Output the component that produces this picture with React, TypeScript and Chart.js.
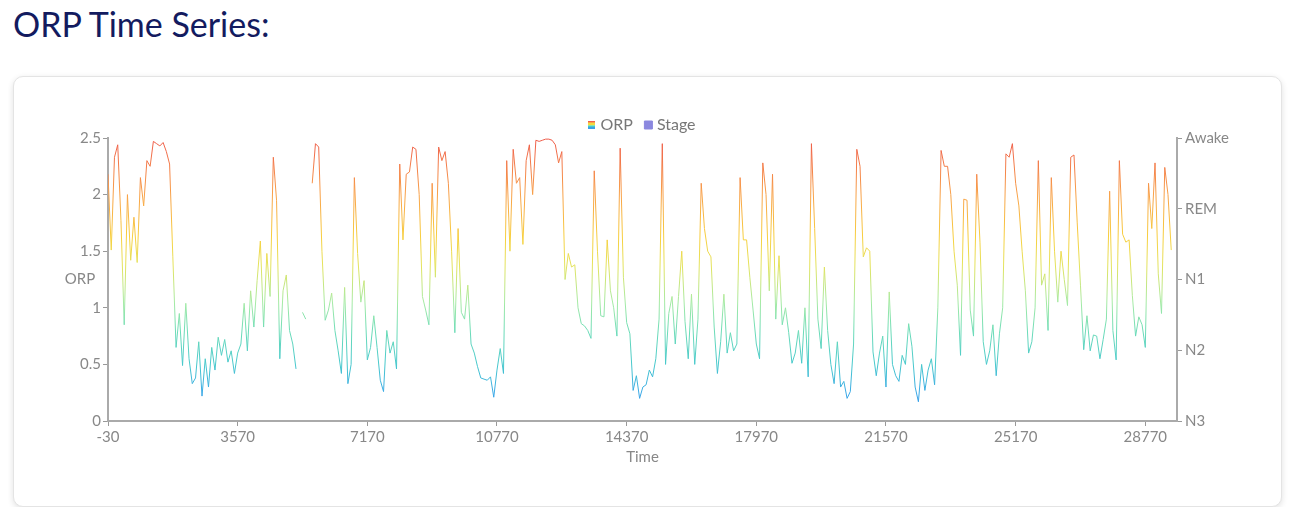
import Chart from 'chart.js/auto';
import { useEffect, useRef } from "react"

Chart.defaults.font.family = 'Lato, "Open Sans", sans-serif'

// one reading every 90 s, first epoch at -30 s (nulls are gaps in the recording)
const TIME_START = -30
const TIME_STEP = 90
const ORP_VALUES: (number | null)[] = [
    2.18, 1.51, 2.33, 2.44, 1.77, 0.85, 2.0, 1.42, 1.8, 1.40,
    2.15, 1.9, 2.3, 2.25, 2.47, 2.45, 2.43, 2.46, 2.38, 2.27,
    1.45, 0.65, 0.95, 0.49, 1.04, 0.55, 0.33, 0.38, 0.7, 0.22,
    0.55, 0.30, 0.65, 0.45, 0.74, 0.58, 0.72, 0.52, 0.62, 0.42,
    0.6, 0.68, 1.04, 0.62, 1.15, 0.83, 1.24, 1.59, 0.83, 1.48,
    1.1, 2.33, 1.95, 0.55, 1.15, 1.29, 0.8, 0.68, 0.46, null,
    0.96, 0.9, null, 2.1, 2.45, 2.42, 1.5, 0.89, 0.98, 1.13,
    0.80, 0.62, 0.42, 1.18, 0.33, 0.5, 2.15, 1.48, 1.05, 1.24,
    0.54, 0.65, 0.93, 0.65, 0.36, 0.26, 0.8, 0.6, 0.7, 0.46,
    2.27, 1.6, 2.18, 2.2, 2.42, 2.4, 2.0, 1.1, 0.98, 0.85,
    2.1, 1.27, 2.42, 2.3, 2.38, 2.1, 1.5, 0.78, 1.7, 0.96,
    0.9, 1.2, 0.68, 0.6, 0.48, 0.38, 0.37, 0.36, 0.39, 0.21,
    0.45, 0.64, 0.42, 2.3, 1.5, 2.4, 2.1, 2.15, 1.56, 2.3,
    2.44, 2.0, 2.48, 2.47, 2.48, 2.49, 2.49, 2.48, 2.44, 2.28,
    2.38, 1.25, 1.48, 1.36, 1.38, 1.0, 0.86, 0.84, 0.8, 0.73,
    2.21, 1.5, 0.93, 0.92, 1.6, 1.15, 1.0, 0.75, 2.41, 1.27,
    0.87, 0.77, 0.27, 0.4, 0.2, 0.3, 0.32, 0.45, 0.39, 0.55,
    0.9, 2.45, 0.5, 0.95, 1.1, 0.68, 1.1, 1.5, 0.88, 0.55,
    1.12, 0.5, 0.9, 2.1, 1.7, 1.5, 1.45, 0.83, 0.42, 0.7,
    1.12, 0.6, 0.78, 0.62, 0.68, 2.15, 1.6, 1.6, 1.27, 0.98,
    0.68, 0.55, 2.28, 2.0, 1.15, 2.18, 0.9, 1.46, 0.85, 1.0,
    0.78, 0.51, 0.6, 0.8, 0.51, 1.0, 0.39, 2.45, 1.7, 0.9,
    0.64, 1.36, 0.8, 0.5, 0.33, 0.7, 0.3, 0.35, 0.2, 0.26,
    0.68, 2.4, 2.25, 1.45, 1.53, 1.5, 0.61, 0.4, 0.6, 0.75,
    0.3, 1.14, 0.5, 0.4, 0.35, 0.58, 0.5, 0.86, 0.66, 0.3,
    0.17, 0.5, 0.27, 0.45, 0.55, 0.32, 1.0, 2.39, 2.25, 2.25,
    2.0, 1.5, 1.2, 0.58, 1.96, 1.95, 0.98, 0.75, 2.18, 1.58,
    0.7, 0.5, 0.62, 0.85, 0.4, 0.77, 1.0, 2.36, 2.33, 2.45,
    2.1, 1.9, 1.5, 1.15, 0.6, 0.7, 1.0, 2.3, 1.2, 1.3,
    0.8, 2.15, 1.5, 1.05, 1.5, 1.25, 1.02, 2.33, 2.35, 1.75,
    1.2, 0.63, 0.93, 0.62, 0.76, 0.75, 0.55, 0.72, 0.9, 2.03,
    0.8, 0.54, 2.3, 1.65, 1.58, 1.6, 1.11, 0.75, 0.92, 0.85,
    0.65, 2.1, 1.7, 2.28, 1.3, 0.95, 2.24, 2.0, 1.51,
]
const STAGE_VALUES: (number | null)[] = []
const X_TICKS = [-30, 3570, 7170, 10770, 14370, 17970, 21570, 25170, 28770]
const STAGE_LABELS = ['N3', 'N2', 'N1', 'REM', 'Awake']

const GRADIENT_STOPS: [number, string][] = [
    [0, '#2f8ff0'],
    [0.1, '#3aa9e6'],
    [0.2, '#46c8cc'],
    [0.32, '#6ddcb6'],
    [0.42, '#a6eaa4'],
    [0.55, '#e4e35c'],
    [0.65, '#f7cf3e'],
    [0.8, '#f8a148'],
    [1, '#ee5a4a'],
]
const LEGEND_STRIPES = ['#ef5f4b', '#f8a247', '#f5d83f', '#8fe3a8', '#46c8cc', '#3a9fe8']
const TEXT_GREY = '#888888'
const AXIS_GREY = '#aaaaaa'
const LEGEND_TRIM = 5

const leftTitle = {
    id: 'leftTitle',
    afterDraw(chart: any) {
        const { ctx, chartArea } = chart
        ctx.save()
        ctx.font = '15px Lato'
        ctx.fillStyle = TEXT_GREY
        ctx.textAlign = 'center'
        ctx.textBaseline = 'middle'
        ctx.fillText('ORP', chartArea.left - 28, (chartArea.top + chartArea.bottom) / 2)
        ctx.restore()
    }
}

// wide gaps between legend items, but the legend box itself kept short
const legendTrim = {
    id: 'legendTrim',
    afterInit(chart: any) {
        const lg = chart.legend
        if (!lg) return
        const fit = lg.fit.bind(lg)
        lg.fit = () => {
            fit()
            lg.height = Math.max(0, lg.height - LEGEND_TRIM)
        }
    }
}

export default function App() {
    const canvasRef = useRef<HTMLCanvasElement>(null)
    useEffect(() => {
        const el = canvasRef.current
        if (el == null) return

        const swatch = document.createElement('canvas')
        swatch.width = 7
        swatch.height = 8
        const sctx = swatch.getContext('2d')!
        LEGEND_STRIPES.forEach((c, i) => {
            sctx.fillStyle = c
            sctx.fillRect(0, Math.floor(i * 8 / LEGEND_STRIPES.length), 7, Math.ceil(8 / LEGEND_STRIPES.length) + 1)
        })

        const chart = new Chart(el, {
            type: 'line',
            data: {
                datasets: [
                    {
                        label: 'ORP',
                        data: ORP_VALUES.map((v, i) => ({ x: TIME_START + i * TIME_STEP, y: v })),
                        yAxisID: 'y',
                        borderWidth: 1,
                        pointRadius: 0,
                        pointStyle: swatch,
                        spanGaps: false,
                        borderColor: (c: any) => {
                            const ch = c.chart
                            if (!ch.chartArea) return '#ee5a4a'
                            const ys = ch.scales.y
                            const g = ch.ctx.createLinearGradient(0, ys.getPixelForValue(0), 0, ys.getPixelForValue(2.5))
                            GRADIENT_STOPS.forEach(([o, col]) => g.addColorStop(o, col))
                            return g
                        },
                    },
                    {
                        label: 'Stage',
                        data: STAGE_VALUES.map((v, i) => ({ x: TIME_START + i * TIME_STEP, y: v })),
                        yAxisID: 'y1',
                        borderWidth: 1,
                        pointRadius: 0,
                        pointStyle: 'rect',
                        borderColor: '#8b88df',
                        backgroundColor: '#8b88df',
                    },
                ],
            },
            options: {
                animation: false,
                responsive: true,
                maintainAspectRatio: false,
                layout: { padding: { left: 30, right: 38, top: 25, bottom: 30 } },
                plugins: {
                    legend: {
                        labels: {
                            usePointStyle: true,
                            boxWidth: 1,
                            boxHeight: 8,
                            padding: 15,
                            color: '#777777',
                            font: { size: 16 },
                        },
                    },
                    tooltip: { enabled: false },
                },
                scales: {
                    x: {
                        type: 'linear',
                        min: -30,
                        max: 29650,
                        afterBuildTicks: (axis: any) => { axis.ticks = X_TICKS.map(value => ({ value })) },
                        afterFit: (axis: any) => { axis.height = 55 },
                        ticks: {
                            autoSkip: false,
                            maxRotation: 0,
                            padding: 2,
                            color: TEXT_GREY,
                            font: { size: 15 },
                            callback: (v: any) => `${v}`,
                        },
                        grid: { drawOnChartArea: false, tickLength: 5, color: '#999999' },
                        border: { color: AXIS_GREY, width: 2 },
                        title: { display: true, text: 'Time', color: TEXT_GREY, font: { size: 15 }, padding: { top: 0, bottom: 10 } },
                    },
                    y: {
                        position: 'left',
                        min: 0,
                        max: 2.5,
                        afterFit: (axis: any) => { axis.width = 64 },
                        ticks: {
                            stepSize: 0.5,
                            padding: 2,
                            color: TEXT_GREY,
                            font: { size: 15 },
                            callback: (v: any) => `${v}`,
                        },
                        grid: { drawOnChartArea: false, tickLength: 5, color: '#999999' },
                        border: { color: AXIS_GREY, width: 2 },
                    },
                    y1: {
                        position: 'right',
                        min: 0,
                        max: 4,
                        afterFit: (axis: any) => { axis.width = 66 },
                        ticks: {
                            stepSize: 1,
                            padding: 3,
                            color: TEXT_GREY,
                            font: { size: 15 },
                            callback: (v: any) => STAGE_LABELS[v] ?? '',
                        },
                        grid: { drawOnChartArea: false, tickLength: 5, color: '#999999' },
                        border: { color: AXIS_GREY, width: 2 },
                    },
                },
            },
            plugins: [leftTitle, legendTrim],
        })
        return () => chart.destroy()
    }, [canvasRef])

    return (
        <div style={{ fontFamily: 'Lato, sans-serif' }}>
            <div style={{ fontSize: 34, lineHeight: '36px', color: '#131b5f', marginLeft: 5, marginTop: -2 }}>ORP Time Series:</div>
            <div style={{
                position: 'relative', marginLeft: 5, marginTop: 34, width: 1269, height: 431,
                boxSizing: 'border-box', border: '1px solid #e4e4e4', borderRadius: 10,
                boxShadow: '0 2px 6px rgba(0,0,0,0.12)', background: '#fff',
            }}>
                <div style={{ position: 'absolute', inset: 0 }}>
                    <canvas ref={canvasRef} />
                </div>
            </div>
        </div>
    )
}
